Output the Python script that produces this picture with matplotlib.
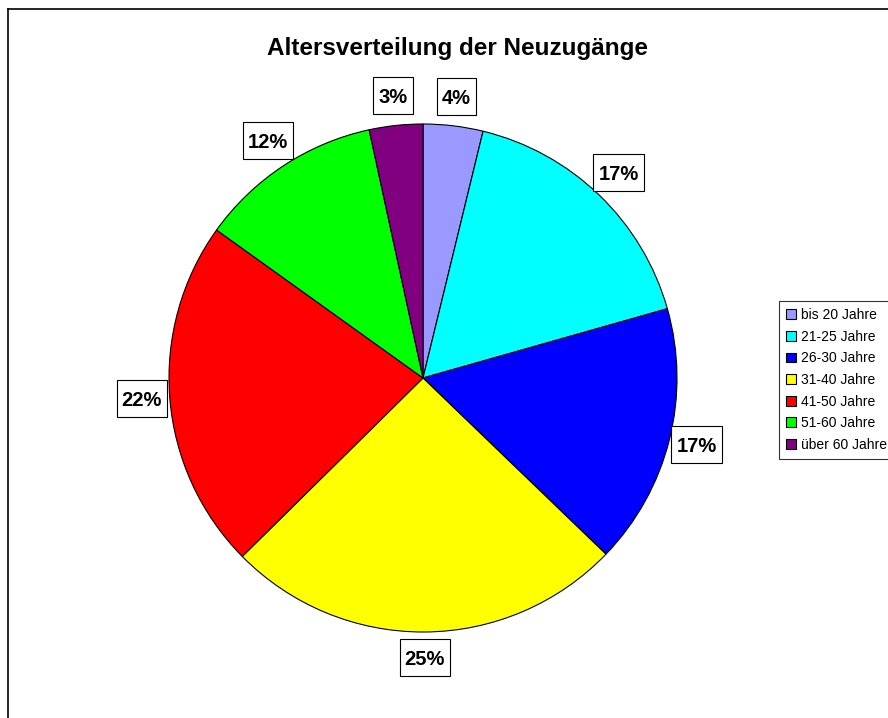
import matplotlib
matplotlib.use('Agg')
import matplotlib.pyplot as plt
from matplotlib.lines import Line2D
from matplotlib.patches import Rectangle

plt.rcParams['font.family'] = ['Liberation Sans', 'DejaVu Sans']

# Daten (Anteile in Prozent)
gruppen = ['bis 20 Jahre', '21-25 Jahre', '26-30 Jahre', '31-40 Jahre',
           '41-50 Jahre', '51-60 Jahre', 'über 60 Jahre']
anteile = [3.8, 16.8, 16.6, 25.4, 22.3, 11.7, 3.4]
farben = ['#9999FF', '#00FFFF', '#0000FF', '#FFFF00', '#FF0000', '#00FF00', '#800080']

fig = plt.figure(figsize=(8.88, 7.18), dpi=100)
ax = fig.add_axes([0, 0, 1, 1])

# Tortendiagramm
wedges, texts, autotexts = ax.pie(
    anteile, colors=farben, startangle=90, counterclock=False,
    center=(423, 340), radius=254, frame=True,
    autopct='%1.0f%%', pctdistance=1.11,
    wedgeprops=dict(edgecolor='black', linewidth=0.8))
ax.set_xlim(0, 888)
ax.set_ylim(0, 718)
ax.set_aspect('equal')
ax.axis('off')

for t in autotexts:
    t.set_fontsize(14.5)
    t.set_fontweight('bold')
    t.set_zorder(5)

# Kästchen um die Prozentwerte
fig.canvas.draw()
r = fig.canvas.get_renderer()
inv = ax.transData.inverted()
for t in autotexts:
    bb = t.get_window_extent(renderer=r)
    (x0, y0), (x1, y1) = inv.transform([(bb.x0 - 5, bb.y0 - 7), (bb.x1 + 5, bb.y1 + 11)])
    ax.add_patch(Rectangle((x0, y0), x1 - x0, y1 - y0, facecolor='white',
                           edgecolor='black', linewidth=0.8, zorder=4, clip_on=False))

# Titel
fig.text(457 / 888, 1 - 48 / 718, 'Altersverteilung der Neuzugänge',
         ha='center', va='center', fontsize=17.5, fontweight='bold')

# Rahmen (links und oben)
fig.add_artist(Line2D([8 / 888, 8 / 888], [0, 1 - 9 / 718], color='black', linewidth=1.2))
fig.add_artist(Line2D([8 / 888, 1], [1 - 9 / 718, 1 - 9 / 718], color='black', linewidth=1.2))

# Legende
leg = fig.legend(wedges, gruppen, loc='upper left',
                 bbox_to_anchor=(779 / 888, 1 - 301 / 718),
                 fontsize=10, frameon=True, fancybox=False,
                 edgecolor='black', handlelength=0.7, handleheight=0.7,
                 handletextpad=0.4, labelspacing=0.55, borderpad=0.5,
                 borderaxespad=0)
leg.get_frame().set_linewidth(0.8)

fig.savefig('out.png', dpi=100)
